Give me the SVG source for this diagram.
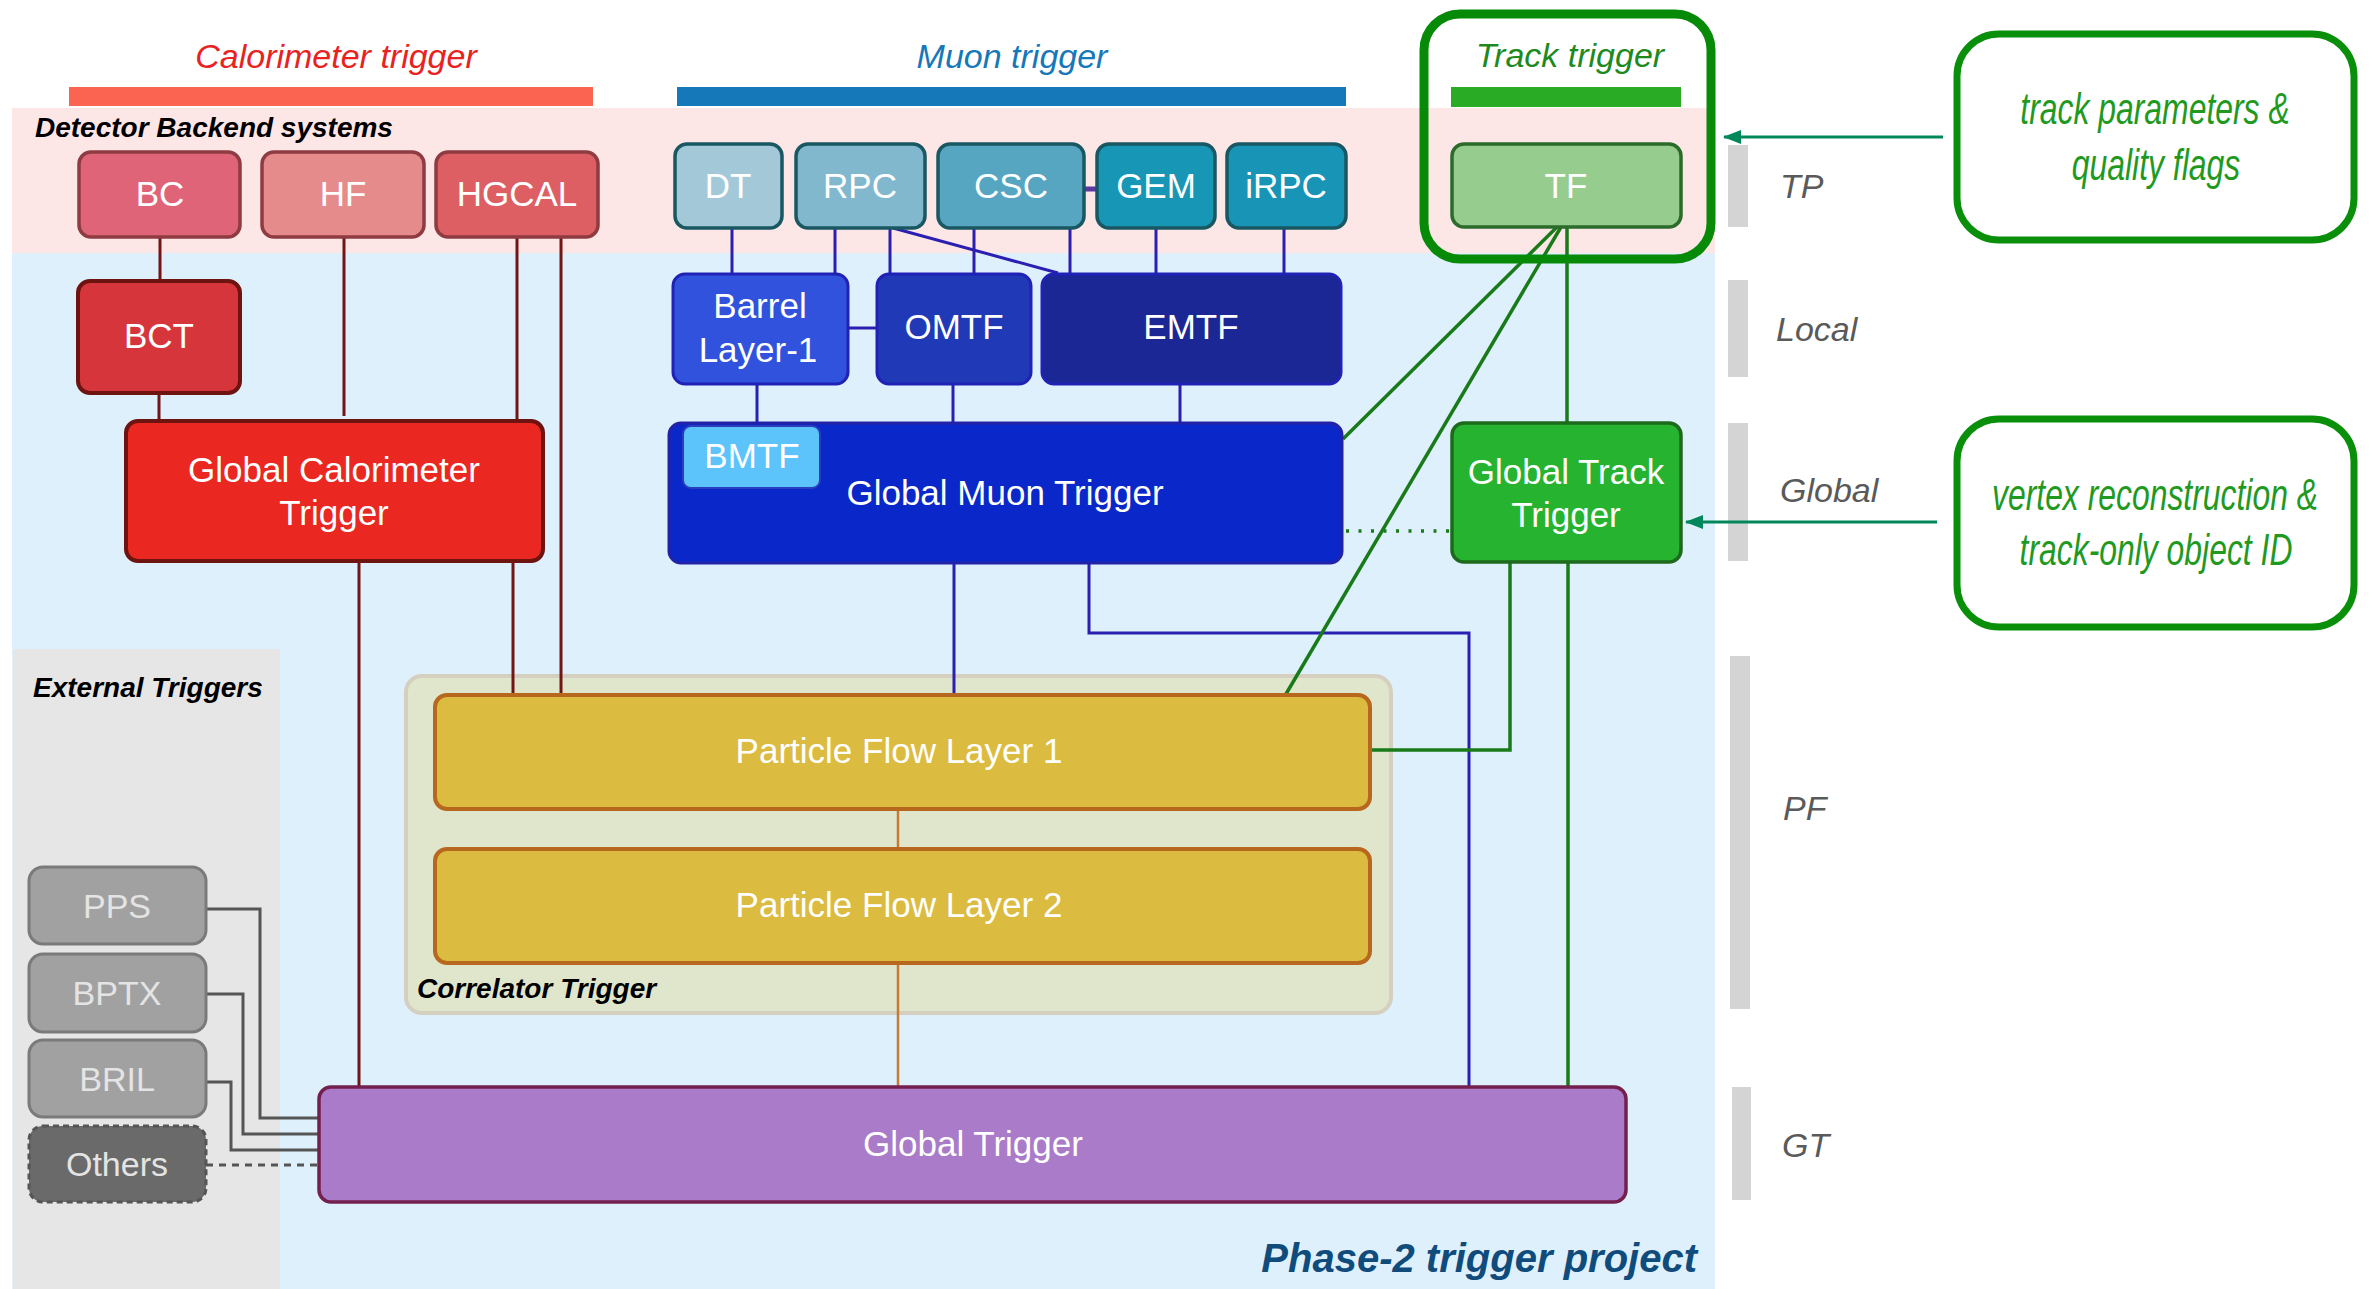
<svg xmlns="http://www.w3.org/2000/svg" width="2370" height="1289" viewBox="0 0 2370 1289">
  <defs>
    <marker id="arrowHead" markerWidth="18" markerHeight="14" refX="17" refY="7" orient="auto" markerUnits="userSpaceOnUse">
      <path d="M0,0 L18,7 L0,14 Z" fill="#00875a"/>
    </marker>
    <style>
      .lbl { font-family: "Liberation Sans", Arial, sans-serif; font-size: 35px; fill: #ffffff; text-anchor: middle; }
      .ext { font-family: "Liberation Sans", Arial, sans-serif; font-size: 34px; fill: #e4e4e4; text-anchor: middle; }
      .head { font-family: "Liberation Sans", Arial, sans-serif; font-size: 34px; font-style: italic; text-anchor: middle; }
      .sect { font-family: "Liberation Sans", Arial, sans-serif; font-size: 28px; font-style: italic; font-weight: bold; fill: #000000; }
      .lvl { font-family: "Liberation Sans", Arial, sans-serif; font-size: 34px; font-style: italic; fill: #5a5a5a; }
      .note { font-family: "Liberation Sans", Arial, sans-serif; font-size: 44px; font-style: italic; fill: #1f9a1f; text-anchor: middle; }
      .bar { fill: #d4d4d4; }
      .cal { stroke: #731515; stroke-width: 3; fill: none; }
      .mu { stroke: #2a1fb0; stroke-width: 3; fill: none; }
      .trk { stroke: #187a18; stroke-width: 3.5; fill: none; }
      .pf { stroke: #c67a33; stroke-width: 2.5; fill: none; }
      .ex { stroke: #555555; stroke-width: 3; fill: none; }
      .calsrc { stroke: #8e3b42; stroke-width: 3.5; }
      .musrc { stroke: #195862; stroke-width: 3.5; }
      .mutf { stroke: #1f22b5; stroke-width: 3; }
      .exbox { fill: #a1a1a1; stroke: #7a7a7a; stroke-width: 3; }
    </style>
  </defs>

  <!-- background regions -->
  <rect x="12" y="108" width="1703" height="145" fill="#fde6e6"/>
  <rect x="12" y="253" width="1703" height="1036" fill="#dff0fd"/>
  <rect x="13" y="649" width="267" height="640" fill="#e6e6e6"/>

  <!-- subsystem headers -->
  <text class="head" x="336" y="68" fill="#e8231f">Calorimeter trigger</text>
  <rect x="69" y="87" width="524" height="19" fill="#fc6452"/>
  <text class="head" x="1012" y="68" fill="#1678b8">Muon trigger</text>
  <rect x="677" y="87" width="669" height="19" fill="#1478b9"/>
  <text class="head" x="1570" y="67" fill="#1e8a1e">Track trigger</text>
  <rect x="1451" y="87" width="230" height="20" fill="#2aab26"/>

  <text class="sect" x="35" y="137">Detector Backend systems</text>
  <text class="sect" x="33" y="697">External Triggers</text>

  <!-- correlator container -->
  <g id="correlator-trigger">
    <rect x="406" y="676" width="985" height="337" rx="16" fill="#e0e6cc" stroke="#d5cfbf" stroke-width="4"/>
    <text class="sect" x="417" y="998">Correlator Trigger</text>
  </g>

  <!-- level scale on the right -->
  <rect class="bar" x="1728" y="145" width="20" height="82"/>
  <text class="lvl" x="1780" y="198">TP</text>
  <rect class="bar" x="1728" y="280" width="20" height="97"/>
  <text class="lvl" x="1776" y="341">Local</text>
  <rect class="bar" x="1728" y="423" width="20" height="138"/>
  <text class="lvl" x="1780" y="502">Global</text>
  <rect class="bar" x="1730" y="656" width="20" height="353"/>
  <text class="lvl" x="1783" y="820">PF</text>
  <rect class="bar" x="1732" y="1087" width="19" height="113"/>
  <text class="lvl" x="1782" y="1157">GT</text>

  <!-- connectors -->
  <g id="connectors">
    <!-- calorimeter chain -->
    <line class="cal" x1="160" y1="237" x2="160" y2="280"/>
    <line class="cal" x1="159" y1="393" x2="159" y2="420"/>
    <line class="cal" x1="344" y1="237" x2="344" y2="416"/>
    <line class="cal" x1="517" y1="237" x2="517" y2="420"/>
    <line class="cal" x1="561" y1="237" x2="561" y2="694"/>
    <line class="cal" x1="513" y1="561" x2="513" y2="694"/>
    <line class="cal" x1="359" y1="561" x2="359" y2="1087"/>

    <!-- muon chain -->
    <line class="mu" x1="732" y1="228" x2="732" y2="273"/>
    <line class="mu" x1="835" y1="228" x2="835" y2="273"/>
    <line class="mu" x1="890" y1="228" x2="890" y2="273"/>
    <line class="mu" x1="893" y1="228" x2="1058" y2="273" stroke-width="4"/>
    <line class="mu" x1="974" y1="228" x2="974" y2="273"/>
    <line class="mu" x1="1070" y1="228" x2="1070" y2="273"/>
    <line class="mu" x1="1156" y1="228" x2="1156" y2="273"/>
    <line class="mu" x1="1284" y1="228" x2="1284" y2="273"/>
    <line x1="1084" y1="189" x2="1096" y2="189" stroke="#5a3aa0" stroke-width="5"/>
    <line class="mu" x1="848" y1="328" x2="876" y2="328" stroke-width="6"/>
    <line class="mu" x1="757" y1="384" x2="757" y2="422"/>
    <line class="mu" x1="953" y1="384" x2="953" y2="422"/>
    <line class="mu" x1="1180" y1="384" x2="1180" y2="422"/>
    <line class="mu" x1="954" y1="563" x2="954" y2="694"/>
    <polyline class="mu" points="1089,563 1089,633 1469,633 1469,1087"/>

    <!-- track chain -->
    <line class="trk" x1="1557" y1="227" x2="1343" y2="439"/>
    <line class="trk" x1="1561" y1="227" x2="1286" y2="694"/>
    <line class="trk" x1="1567" y1="227" x2="1567" y2="422" stroke-width="3"/>
    <polyline class="trk" points="1510,562 1510,750 1370,750"/>
    <line class="trk" x1="1568" y1="562" x2="1568" y2="1087" stroke-width="3"/>
    <line class="trk" x1="1346" y1="531" x2="1449" y2="531" stroke-width="3.5" stroke-dasharray="3 9.5"/>

    <!-- particle flow chain -->
    <line class="pf" x1="898" y1="809" x2="898" y2="849"/>
    <line class="pf" x1="898" y1="963" x2="898" y2="1087"/>

    <!-- external triggers -->
    <polyline class="ex" points="206,909 260,909 260,1118 318,1118"/>
    <polyline class="ex" points="206,994 243,994 243,1134 318,1134"/>
    <polyline class="ex" points="206,1082 231,1082 231,1150 318,1150"/>
    <line class="ex" x1="206" y1="1165" x2="318" y2="1165" stroke-dasharray="7 6"/>

    <!-- annotations -->
    <line x1="1943" y1="137" x2="1724" y2="137" stroke="#00875a" stroke-width="3" marker-end="url(#arrowHead)"/>
    <line x1="1937" y1="522" x2="1686" y2="522" stroke="#00875a" stroke-width="3" marker-end="url(#arrowHead)"/>
  </g>

  <!-- calorimeter nodes -->
  <g id="bc">
    <rect class="calsrc" x="79" y="152" width="161" height="85" rx="12" fill="#e06477"/>
    <text class="lbl" x="160" y="206">BC</text>
  </g>
  <g id="hf">
    <rect class="calsrc" x="262" y="152" width="162" height="85" rx="12" fill="#e58b8b"/>
    <text class="lbl" x="343" y="206">HF</text>
  </g>
  <g id="hgcal">
    <rect class="calsrc" x="436" y="152" width="162" height="85" rx="12" fill="#dd5f63"/>
    <text class="lbl" x="517" y="206">HGCAL</text>
  </g>
  <g id="bct">
    <rect x="78" y="281" width="162" height="112" rx="12" fill="#d6363b" stroke="#6d1310" stroke-width="4"/>
    <text class="lbl" x="159" y="348">BCT</text>
  </g>
  <g id="gct">
    <rect x="126" y="421" width="417" height="140" rx="12" fill="#ea2720" stroke="#6d1310" stroke-width="4"/>
    <text class="lbl" x="334" y="482">Global Calorimeter</text>
    <text class="lbl" x="334" y="525">Trigger</text>
  </g>

  <!-- muon nodes -->
  <g id="dt">
    <rect class="musrc" x="675" y="144" width="107" height="84" rx="12" fill="#a3c9d9"/>
    <text class="lbl" x="728" y="198">DT</text>
  </g>
  <g id="rpc">
    <rect class="musrc" x="796" y="144" width="129" height="84" rx="12" fill="#82b8cd"/>
    <text class="lbl" x="860" y="198">RPC</text>
  </g>
  <g id="csc">
    <rect class="musrc" x="938" y="144" width="146" height="84" rx="12" fill="#56a6c1"/>
    <text class="lbl" x="1011" y="198">CSC</text>
  </g>
  <g id="gem">
    <rect class="musrc" x="1097" y="144" width="118" height="84" rx="12" fill="#1896b5"/>
    <text class="lbl" x="1156" y="198">GEM</text>
  </g>
  <g id="irpc">
    <rect class="musrc" x="1227" y="144" width="119" height="84" rx="12" fill="#1895b6"/>
    <text class="lbl" x="1286" y="198">iRPC</text>
  </g>
  <g id="barrel-layer1">
    <rect class="mutf" x="673" y="274" width="175" height="110" rx="12" fill="#3152dc"/>
    <text class="lbl" x="760" y="318">Barrel</text>
    <text class="lbl" x="758" y="362">Layer-1</text>
  </g>
  <g id="omtf">
    <rect class="mutf" x="877" y="274" width="154" height="110" rx="12" fill="#2039b7"/>
    <text class="lbl" x="954" y="339">OMTF</text>
  </g>
  <g id="emtf">
    <rect class="mutf" x="1042" y="274" width="299" height="110" rx="12" fill="#1b2795"/>
    <text class="lbl" x="1191" y="339">EMTF</text>
  </g>
  <g id="gmt">
    <rect x="669" y="423" width="673" height="140" rx="12" fill="#0a27c9" stroke="#2222a8" stroke-width="3"/>
    <text class="lbl" x="1005" y="505">Global Muon Trigger</text>
  </g>
  <g id="bmtf">
    <rect x="683" y="426" width="137" height="62" rx="8" fill="#5cc3fb" stroke="#2a3fc0" stroke-width="2"/>
    <text class="lbl" x="752" y="468">BMTF</text>
  </g>

  <!-- track nodes -->
  <g id="track-trigger-frame">
    <rect x="1424" y="14" width="287" height="245" rx="36" fill="none" stroke="#078a07" stroke-width="9"/>
  </g>
  <g id="tf">
    <rect x="1452" y="144" width="229" height="83" rx="12" fill="#96cd8f" stroke="#2b6b2b" stroke-width="3.5"/>
    <text class="lbl" x="1566" y="198">TF</text>
  </g>
  <g id="gtt">
    <rect x="1452" y="423" width="229" height="139" rx="12" fill="#26b32f" stroke="#1d6a1d" stroke-width="3.5"/>
    <text class="lbl" x="1566" y="484" font-size="34">Global Track</text>
    <text class="lbl" x="1566" y="527" font-size="34">Trigger</text>
  </g>

  <!-- correlator nodes -->
  <g id="pf-layer1">
    <rect x="435" y="695" width="935" height="114" rx="12" fill="#dcbb41" stroke="#b8671f" stroke-width="4"/>
    <text class="lbl" x="899" y="763">Particle Flow Layer 1</text>
  </g>
  <g id="pf-layer2">
    <rect x="435" y="849" width="935" height="114" rx="12" fill="#dcbb41" stroke="#b8671f" stroke-width="4"/>
    <text class="lbl" x="899" y="917">Particle Flow Layer 2</text>
  </g>

  <!-- global trigger -->
  <g id="global-trigger">
    <rect x="319" y="1087" width="1307" height="115" rx="12" fill="#a97bc8" stroke="#74204f" stroke-width="3.5"/>
    <text class="lbl" x="973" y="1156">Global Trigger</text>
  </g>

  <!-- external triggers -->
  <g id="pps">
    <rect class="exbox" x="29" y="867" width="177" height="77" rx="14"/>
    <text class="ext" x="117" y="918">PPS</text>
  </g>
  <g id="bptx">
    <rect class="exbox" x="29" y="954" width="177" height="78" rx="14"/>
    <text class="ext" x="117" y="1005">BPTX</text>
  </g>
  <g id="bril">
    <rect class="exbox" x="29" y="1040" width="177" height="77" rx="14"/>
    <text class="ext" x="117" y="1091">BRIL</text>
  </g>
  <g id="others">
    <rect x="29" y="1126" width="177" height="76" rx="14" fill="#6a6a6a" stroke="#555555" stroke-width="3" stroke-dasharray="6 4"/>
    <text class="ext" x="117" y="1176" fill="#dddddd">Others</text>
  </g>

  <!-- annotation boxes; the narrow lettering is a horizontal squeeze of the italic face -->
  <g id="note-track-params">
    <rect x="1957" y="34" width="397" height="206" rx="42" fill="#ffffff" stroke="#0a8f0a" stroke-width="7"/>
    <text class="note" transform="translate(2155 124) scale(0.725 1)">track parameters &amp;</text>
    <text class="note" transform="translate(2156 180) scale(0.725 1)">quality flags</text>
  </g>
  <g id="note-vertex">
    <rect x="1957" y="419" width="397" height="208" rx="42" fill="#ffffff" stroke="#0a8f0a" stroke-width="7"/>
    <text class="note" transform="translate(2155 510) scale(0.725 1)">vertex reconstruction &amp;</text>
    <text class="note" transform="translate(2156 565) scale(0.725 1)">track-only object ID</text>
  </g>

  <text x="1697" y="1272" font-family="Liberation Sans, Arial, sans-serif" font-size="40" font-style="italic" font-weight="bold" fill="#0f4c7c" text-anchor="end">Phase-2 trigger project</text>
</svg>
